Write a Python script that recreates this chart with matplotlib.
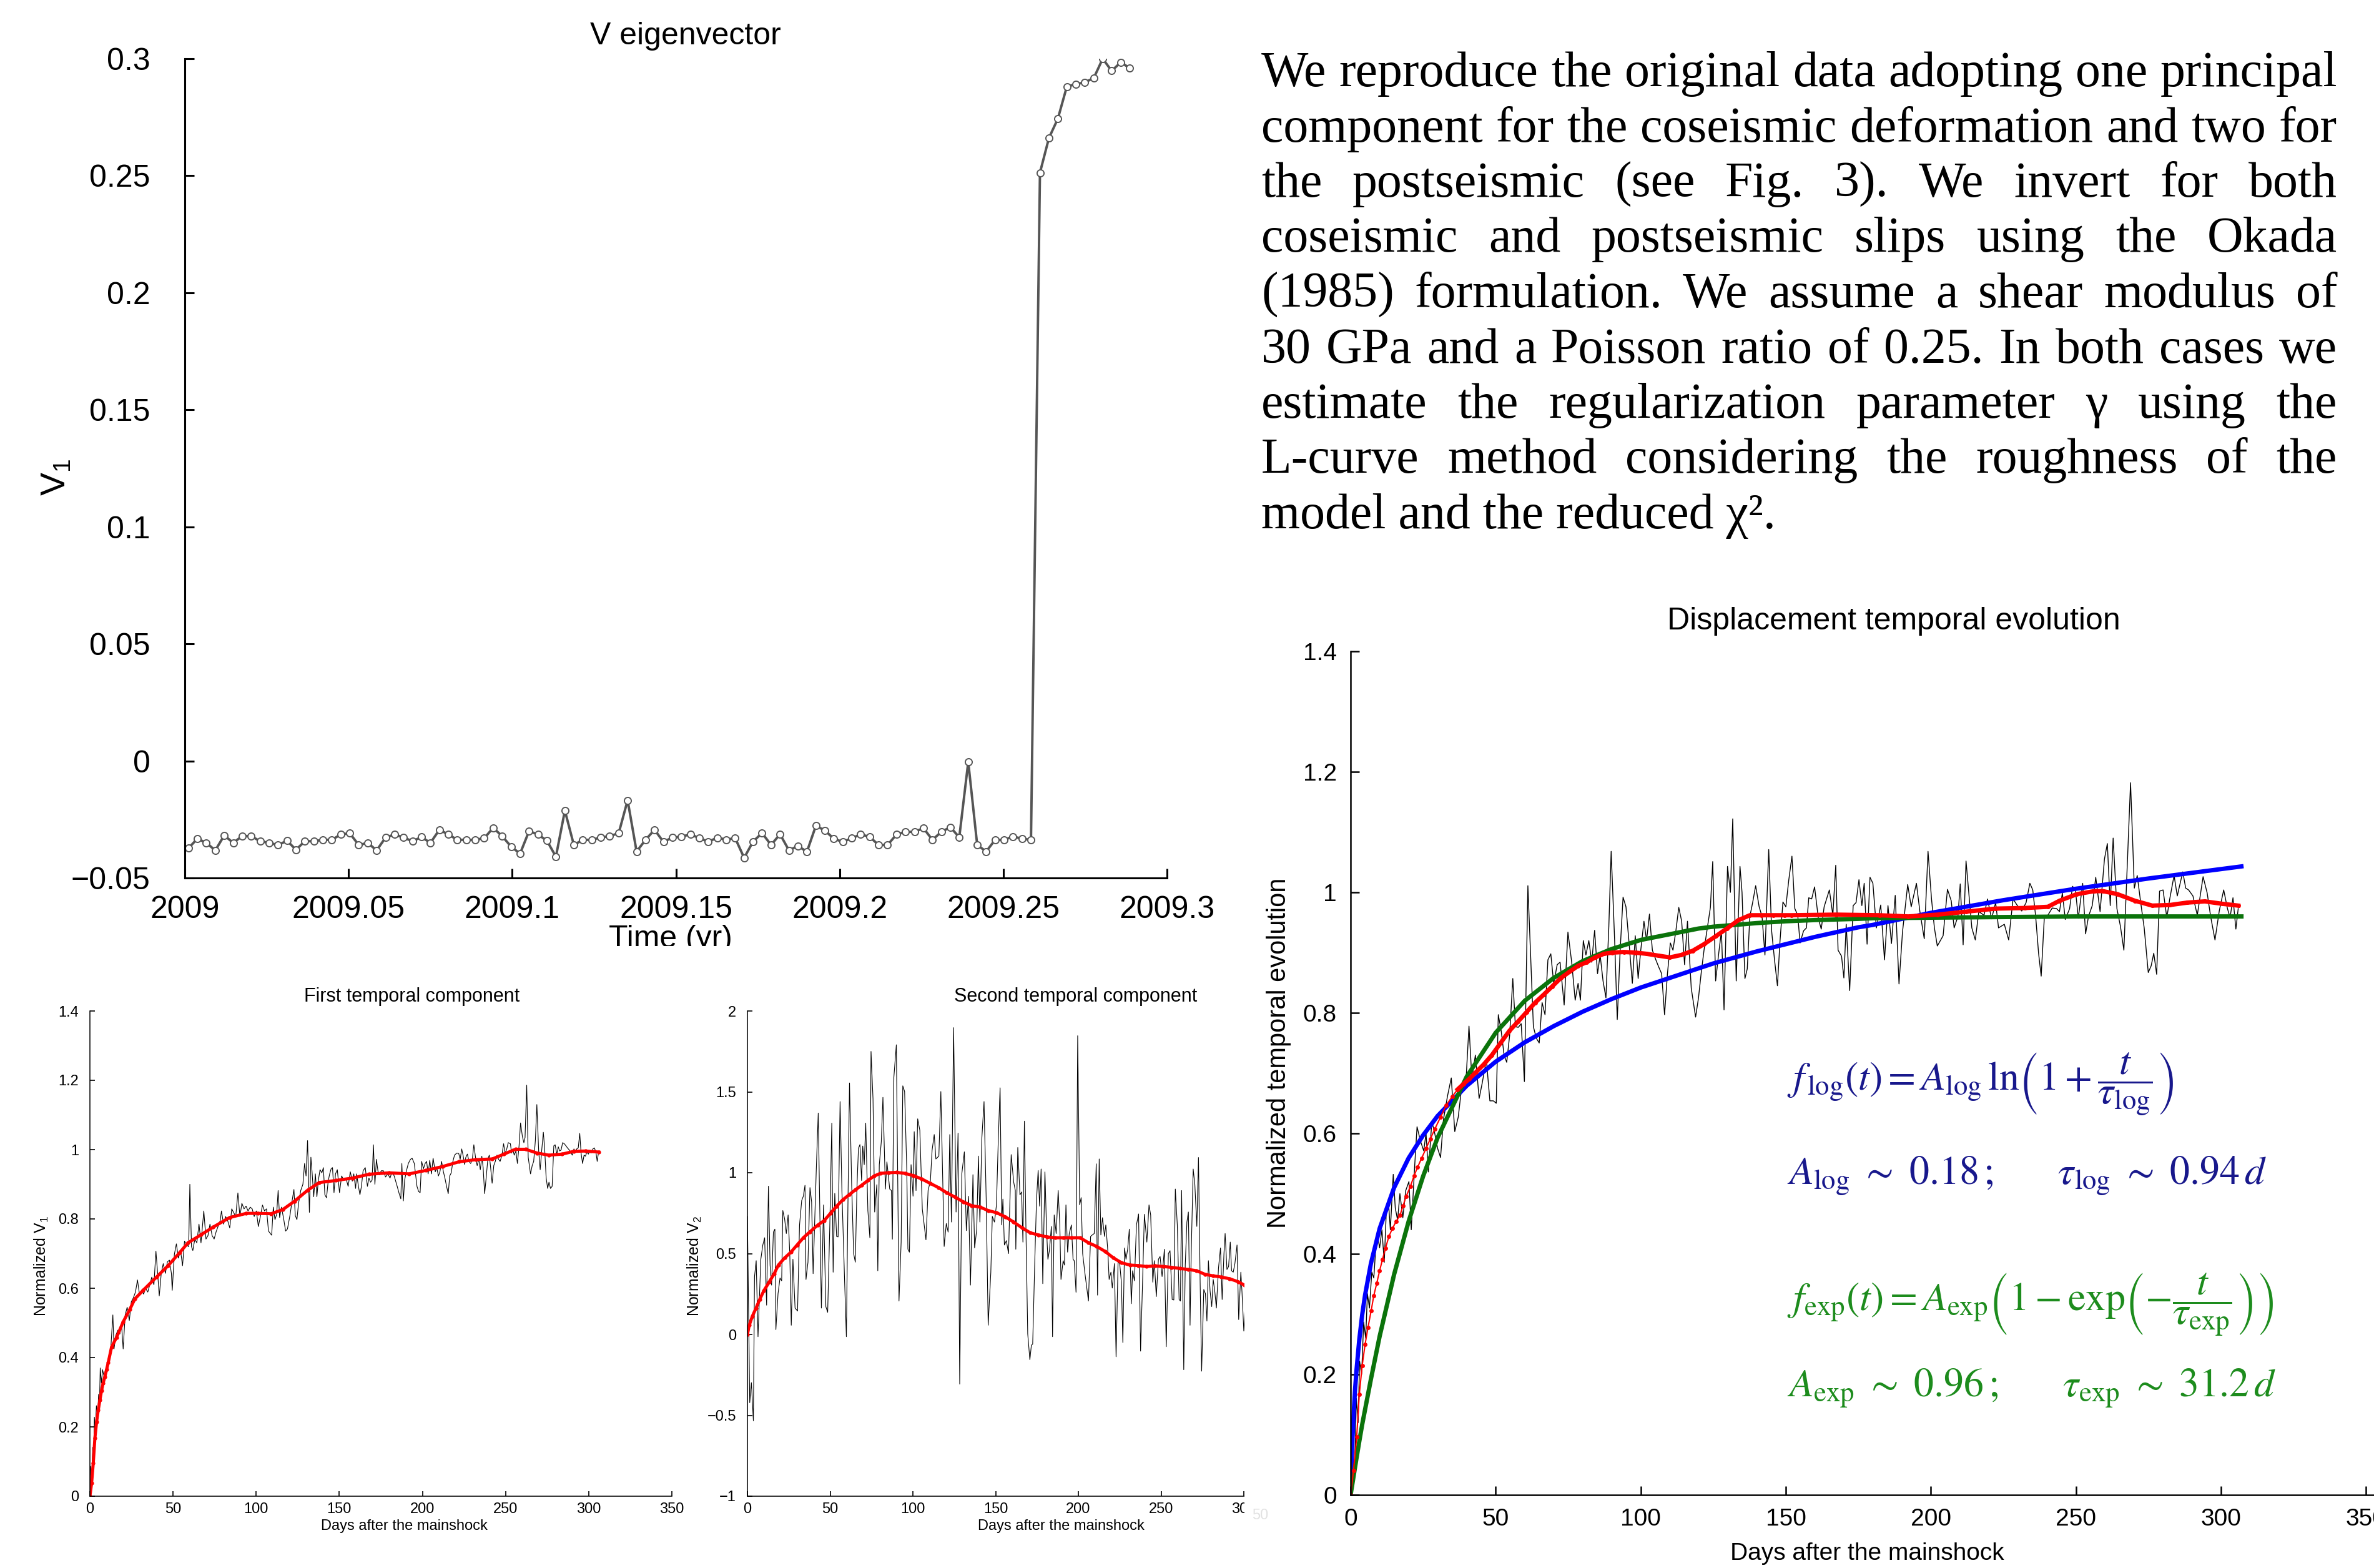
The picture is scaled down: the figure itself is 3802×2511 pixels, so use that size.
import numpy as np
import matplotlib
matplotlib.use('Agg')
import matplotlib.pyplot as plt
from matplotlib.patches import Rectangle
from matplotlib.ticker import FuncFormatter

plt.rcParams['font.family'] = ['Liberation Sans', 'DejaVu Sans']

W, H = 3802, 2511

# --- V eigenvector (daily values, start 2009.0) ---
v_eig = [-0.0373, -0.0332, -0.0350, -0.0382, -0.0318, -0.0350, -0.0321, -0.0321, -0.0343, -0.0350,
         -0.0359, -0.0341, -0.0379, -0.0343, -0.0343, -0.0337, -0.0337, -0.0314, -0.0309, -0.0359,
         -0.0350, -0.0382, -0.0327, -0.0314, -0.0327, -0.0343, -0.0325, -0.0350, -0.0294, -0.0314,
         -0.0337, -0.0337, -0.0337, -0.0330, -0.0286, -0.0321, -0.0366, -0.0396, -0.0300, -0.0314,
         -0.0341, -0.0409, -0.0212, -0.0359, -0.0337, -0.0337, -0.0327, -0.0321, -0.0309, -0.0168,
         -0.0387, -0.0337, -0.0294, -0.0346, -0.0327, -0.0324, -0.0313, -0.0330, -0.0345, -0.0328,
         -0.0336, -0.0330, -0.0414, -0.0344, -0.0308, -0.0359, -0.0313, -0.0382, -0.0363, -0.0388,
         -0.0277, -0.0297, -0.0332, -0.0346, -0.0330, -0.0314, -0.0324, -0.0359, -0.0359, -0.0314,
         -0.0303, -0.0303, -0.0287, -0.0337, -0.0303, -0.0283, -0.0326, -0.0004, -0.0359, -0.0387,
         -0.0337, -0.0337, -0.0323, -0.0332, -0.0337, 0.2513, 0.2661, 0.2744, 0.2881, 0.2891,
         0.2899, 0.2917, 0.3000, 0.2948, 0.2984, 0.2961]
eig_xticks = [2009, 2009.05, 2009.1, 2009.15, 2009.2, 2009.25, 2009.3]
eig_yticks = [-0.05, 0, 0.05, 0.1, 0.15, 0.2, 0.25, 0.3]

# --- First temporal component ---
v1_noisy = [(0, 0), (0.5, .086), (1, .043), (1.7, .141), (2.2, .097), (2.7, .228), (3.2, .185), (3.9, .261),
            (4.7, .228), (5.2, .294), (5.7, .25), (6.2, .37), (6.9, .327), (7.6, .365), (8.4, .348), (9.1, .359),
            (10.1, .376), (11.3, .403), (12.6, .43), (13.8, .523), (14.5, .425), (15.5, .463), (16.8, .479),
            (18, .468), (19, .496), (20, .425), (21.2, .523), (22.4, .545), (23.7, .507), (24.9, .561),
            (26.1, .572), (27.4, .589), (28.6, .624), (29.8, .583), (31.1, .594), (32.3, .583), (33.5, .6),
            (34.8, .589), (36, .61), (37.2, .632), (38.5, .61), (39.7, .707), (40.9, .632), (41.7, .578),
            (42.9, .643), (44.1, .671), (45.4, .643), (46.6, .676), (47.8, .681), (49, .643), (49.5, .594),
            (50.8, .698), (52, .728), (53.2, .687), (54.5, .709), (55.7, .665), (56.9, .736), (58.2, .725),
            (59.4, .72), (60.1, .9), (61.1, .72), (61.9, .709), (63.1, .742), (64.3, .731), (65.6, .785),
            (66.8, .731), (68.5, .823), (69.8, .742), (71, .752), (72.2, .785), (73.5, .752), (74.7, .742),
            (75.9, .763), (77.2, .78), (78.4, .796), (79.1, .823), (80.4, .785), (81.6, .807), (82.8, .796),
            (84.1, .774), (85.3, .829), (86.5, .818), (87.7, .807), (89, .875), (90.2, .807), (91.4, .845),
            (92.7, .829), (93.9, .837), (95.1, .823), (96.4, .834), (97.6, .829), (98.8, .807), (100.1, .823),
            (101.3, .778), (102.5, .807), (103.8, .84), (105, .823), (106.2, .829),
            (107.4, .765), (109.3, .753), (110.3, .834), (111.3, .798), (112.3, .813), (113.2, .882),
            (114.1, .804), (115.2, .834), (116.5, .801), (117.7, .765), (118.8, .771), (120.3, .81),
            (121.6, .852), (122.7, .885), (123.5, .81), (124.5, .798), (125.5, .846), (126.8, .882),
            (128.1, .9), (129.1, .96), (130, .924), (130.9, 1.026), (132, .819), (132.9, .978), (133.6, .936),
            (134.6, .864), (135.6, .93), (136.5, .864), (137.4, .912), (138.4, .942), (139.5, .933),
            (140.4, .948), (141.3, .87), (142.3, .861), (143.3, .909), (144.2, .93), (145.1, .945),
            (145.9, .948), (146.8, .876), (147.7, .93), (148.8, .942), (150.1, .876), (151.4, .924),
            (152.7, .912), (154, .918), (155.3, .894), (156.6, .936), (157.8, .909), (158.7, .93),
            (159.8, .888), (160.4, .93), (161.5, .894), (162.4, .87), (163.3, .894), (164.3, .939),
            (165.6, .948), (166.9, .894), (167.8, .918), (168.8, .906), (169.7, .912), (170.5, 1.014),
            (171.4, .9), (172.3, .972), (173.3, .936), (174.2, .927), (175.2, .939), (176.5, .939),
            (177.8, .921), (179.2, .93), (180.5, .918), (181.7, .936), (183, .924), (184.8, .894),
            (186, .873), (187, .858), (187.6, .96), (188.5, .852), (189.3, .912), (190.2, .936),
            (191.5, .96), (192.8, .972), (193.8, .975), (195.1, .96), (196.7, .894), (197.7, .879),
            (198.6, .876), (199.5, .966), (200.6, .945), (201.6, .96), (202.5, .966), (203.4, .93),
            (204.4, .969), (205.4, .93), (206.4, .975), (207.7, .936), (208.6, .948), (209.6, .924),
            (210.5, .936), (211.5, .966), (212.6, .936), (213.5, .918), (214.5, .894), (215.5, .873),
            (216.4, .924), (217.3, .933), (218.3, .966), (219.3, .984), (220.6, .99), (221.8, .989),
            (222.7, .972), (223.6, 1.002), (224.4, .984), (225.4, .957), (226.1, .978), (227, .987),
            (228, .966), (229, .96), (230, .972), (230.9, 1.014), (231.9, .978), (232.9, .954),
            (233.9, .972), (234.8, .942), (235.7, .981), (236.5, .948), (237.4, .873), (238.3, .918),
            (239.3, .972), (240.2, .984), (241, .948), (241.9, .903), (242.9, .954), (243.8, .966),
            (244.8, .984), (245.8, .972), (246.7, .966), (247.8, .984), (248.8, 1.017), (249.7, .99),
            (250.7, 1.002), (251.6, 1.02), (252.9, 1.017), (253.6, .99), (254.3, 1.002), (255.2, .984),
            (256.2, .996), (257.1, .96), (258.1, 1.011), (259, 1.077), (260.1, 1.038), (261, 1.02),
            (261.7, 1.035), (262.7, 1.186), (263.6, .978), (264.3, .954), (265, .93), (266, .954),
            (266.9, .966), (267.9, 1.026), (268.8, 1.13), (269.9, .996), (270.8, .942), (271.8, 1.002),
            (272.7, 1.05), (273.5, 1.002), (274.4, .918), (275.3, .888), (276.1, .906), (277, .888),
            (278, .894), (279, 1.011), (279.8, 1.014), (280.8, .987), (281.7, 1.008), (282.5, .996),
            (283.4, .999), (284.3, 1.02), (285.3, 1.017), (286.3, 1.011), (287.2, 1.005), (288.3, .999),
            (289.2, .993), (290.1, .984), (291.1, 1.002), (292, .993), (292.8, 1.002), (293.7, 1.005),
            (294.6, 1.047), (295.4, .99), (296.3, .96), (297.2, .984), (298, .981), (298.9, .993),
            (299.8, .987), (300.6, .996), (301.4, .99), (302.5, 1.002), (303.4, 1.005), (304.3, .993),
            (305.1, .966), (306, .996), (306.6, .993)]
v1_smooth_days = [0, 1, 2, 3, 4, 5, 6, 7, 8, 9, 10, 11, 13, 16, 20, 24, 27, 32, 40, 47, 54, 59, 67, 74, 84,
                  94, 101, 109, 116, 123, 131, 138, 148, 158, 168, 180, 192, 202, 212, 222, 232, 242, 249,
                  256, 262, 269, 276, 284, 291, 298, 306]
v1_smooth = [0, .037, .095, .168, .214, .248, .277, .305, .327, .345, .365, .385, .43, .458, .503, .539,
             .569, .594, .632, .665, .703, .731, .755, .776, .804, .816, .816, .815, .827, .851, .883, .905,
             .911, .918, .929, .933, .930, .940, .951, .965, .971, .973, .987, 1.001, 1.001, .990, .984,
             .987, .995, .996, .993]

# --- Second temporal component ---
v2_noisy = [(0, .73), (1.4, -.422), (2.4, -.298), (3.6, -.534), (4.3, .358), (5.3, .456), (6.4, -.014),
            (8.1, .465), (9.3, .553), (10.4, .598), (11.6, .181), (12.7, .917), (13.7, .429), (14.6, .305),
            (15.7, .633), (16.6, .651), (17.2, .03), (18.5, .252), (19.7, .349), (20.7, .332), (21.4, .766),
            (22.5, .713), (23.5, .624), (24.6, .739), (25.6, .5), (26.5, .057), (27.5, .465), (28.8, .163),
            (30.3, .145), (31.5, .677), (32.8, .828), (33.8, .855), (34.8, .922), (35.4, .34), (36.6, .447),
            (37.8, .908), (38.8, .819), (39.7, .376), (41.6, 1.014), (42.8, 1.369), (44.7, .163), (46, .801),
            (47.4, .172), (48.5, .137), (49.8, .677), (51, 1.307), (51.8, .385), (52.8, .872), (53.9, .606),
            (54.8, .603), (56, 1.44), (57.1, .89), (58.6, .376), (59.8, -.014), (60.5, .606), (61.7, 1.555),
            (63, .926), (64.2, .5), (65.2, .447), (66.2, .908), (67.1, 1.15), (68, 1.174), (69, .952),
            (69.7, 1.165), (70.6, 1.05), (71.5, 1.307), (72.8, .766), (74, .598), (74.7, 1.75), (75.9, 1.457),
            (76.9, .757), (78.2, .926), (78.8, .394), (79.7, 1.05), (80.9, 1.191), (81.9, 1.466), (83.4, .899),
            (84.3, 1.067), (86, .899), (87, .89), (87.6, .589), (88.5, 1.59), (90, 1.791), (91.6, .207),
            (92.9, .571), (93.9, 1.537), (95, 1.502), (96.3, 1.023), (97, .527), (97.9, .509), (98.9, 1.05),
            (100.1, .855), (100.8, 1.254), (101.9, .89), (102.9, 1.333), (104.2, 1.262), (105.7, .775),
            (107.9, .585), (109.2, .89), (110.6, .952), (111.6, 1.138), (112.9, 1.236), (113.9, 1.085),
            (115.7, 1.103), (116.9, 1.502), (118.2, .89), (118.9, .544), (120.2, .686), (121.3, .633),
            (122.3, 1.236), (123.3, .695), (124.6, 1.897), (126.1, .757), (127.3, 1.245), (128.3, -.307),
            (129.6, .996), (131.1, 1.129), (132.3, .642), (133.6, .855), (134.8, .305), (136.3, .988),
            (137.3, .535), (138.6, .651), (139.6, 1.103), (140.5, .695), (141.7, 1.218), (143, 1.44),
            (144.3, .837), (145.5, .057), (147.1, .385), (148, .73), (149.3, .695), (150.5, .8), (151.6, 1.2),
            (152.7, 1.525), (153.7, .677), (154.4, .837), (155.3, .553), (156.5, .58), (157.8, .5),
            (159.4, 1.112), (160.9, .943), (161.9, .89), (162.2, .527), (163.4, 1.156), (164.7, .863),
            (165.7, .881), (166.5, .571), (167.4, 1.319), (168.4, .6), (169.4, .004), (170.7, -.156),
            (171.6, -.067), (172.4, -.059), (173.7, .465), (174.7, .828), (175.7, 1.014), (176.6, .793),
            (177.5, 1.023), (178.5, .314), (179.8, 1.005), (180.8, .642), (181.6, .465), (182.5, .518),
            (183.7, .668), (184.4, -.014), (185.4, .739), (186.6, .624), (187.8, .89), (188.8, .677),
            (189.5, .34), (190.8, .456), (191.6, .429), (192.5, .801), (193.5, .509), (194.5, .624),
            (195.8, .677), (196.8, .465), (197.5, .456), (198.6, .261), (199.6, 1.847), (200.8, .801),
            (201.7, .846), (202.6, .5), (204, .376), (205.1, .287), (206.1, .207), (207.4, .606),
            (208.4, .615), (209.6, .624), (210.8, 1.055), (211.6, .243), (212.6, 1.085), (213.6, .615),
            (214.6, .722), (215.8, .606), (216.6, .677), (217.8, .518), (218.6, .34), (219.7, .385),
            (220.5, .287), (221.8, .438), (222.8, -.138), (224, .447), (225, .438), (226, .323),
            (226.9, -.05), (227.9, .535), (228.8, .465), (229.8, .527), (230.8, .651), (232, .19),
            (232.8, .394), (233.9, .332), (235.1, .677), (236.4, .745), (237.6, -.103), (238.9, .358),
            (239.9, .743), (241.4, .571), (242.7, .801), (243.7, .739), (245, .323), (245.9, .456),
            (247.1, .234), (248.4, .465), (249.4, .482), (250.6, .358), (252, .527), (253.1, -.076),
            (254.4, .5), (255.4, .518), (256.7, .216), (257.7, .213), (258.6, .899), (259.8, .677),
            (260.9, .216), (261.7, .207), (262.4, .89), (263.7, -.218), (264.6, .429), (265.6, .695),
            (266.5, .757), (267.5, .057), (268.2, .5), (269.4, 1.023), (270.4, .926), (271.6, .668),
            (272.6, 1.094), (273.6, .323), (274.5, -.227), (275.8, .278), (276.8, .252), (277.7, .083),
            (278.6, .456), (279.6, .27), (280.6, .172), (281.5, .34), (282.5, .261), (283.4, .163),
            (284.7, .411), (285.9, .535), (286.9, .216), (288, .5), (288.7, .624), (289.8, .402),
            (290.8, .42), (291.8, .571), (292.6, .394), (293.6, .385), (294.6, .438), (295.9, .553),
            (296.9, .092), (298.2, .385), (298.9, .261), (300, .021), (301, .225)]
v2_smooth_days = [0, 1.1, 3, 5.2, 7.4, 9.9, 13.1, 16.2, 18.7, 22.5, 26.3, 30, 33.8, 37.6, 42.6, 46.4, 50.1,
                  53.9, 57.7, 61.4, 65.2, 69, 72.8, 76.5, 80.3, 85.3, 90.3, 95.3, 100.4, 105.4, 110.5, 115.5,
                  120.5, 125.5, 130.6, 135.6, 140.6, 145.6, 150.7, 155.9, 160.9, 165.9, 171, 176, 181, 186,
                  191, 196, 201, 206.1, 211.1, 216.1, 221.2, 226.2, 231.2, 236.2, 241.3, 246.3, 251.3, 256.3,
                  261.4, 266.4, 271.4, 276.5, 281.5, 286.5, 291.5, 296.6, 300.3]
v2_smooth = [0, .057, .113, .163, .216, .270, .323, .376, .429, .473, .509, .553, .598, .633, .677, .704,
             .748, .793, .833, .863, .894, .922, .952, .979, .996, 1.0, 1.002, .996, .982, .961, .934, .908,
             .876, .849, .819, .796, .787, .766, .752, .727, .695, .660, .628, .615, .603, .598, .598, .598,
             .598, .567, .544, .514, .473, .443, .429, .426, .420, .424, .420, .415, .408, .402, .394, .372,
             .362, .355, .344, .326, .305]

# --- Displacement temporal evolution ---
disp_noisy = [(0, 0), (0.6, .08), (1.3, .03), (2, .16), (2.6, .12), (3.1, .222), (3.8, .2), (4.5, .287),
              (5.2, .26), (5.8, .334), (6.5, .31), (7.3, .37), (8, .36), (8.6, .405), (9.3, .43), (10, .41),
              (10.8, .44), (11.6, .386), (12.3, .47), (13, .49), (13.7, .44), (14.7, .532), (15.4, .476),
              (16.2, .456), (17, .5), (18, .46), (19, .505), (20.1, .52), (20.9, .44), (22.1, .547),
              (22.9, .611), (24.1, .587), (25.2, .571), (26, .6), (26.8, .536), (28, .62), (29, .6),
              (30, .575), (31, .56), (32, .623), (33.4, .662), (34.7, .692), (35.9, .603), (37.1, .627),
              (38.4, .682), (39.8, .69), (40.8, .778), (41.8, .69), (43, .73), (44.3, .658), (45.3, .682),
              (46.8, .722), (48, .654), (49.2, .654), (50.2, .65), (50.9, .797), (51.9, .77), (52.9, .73),
              (53.8, .718), (54.8, .762), (55.9, .857), (56.8, .777), (57.8, .776), (58.8, .782), (59.9, .686),
              (61.1, 1.011), (62.1, .888), (63, .777), (64, .758), (65, .75), (66, .817), (67, .797), (68, .888),
              (69, .898), (70, .849), (71.2, .88), (72.2, .884), (73.6, .813), (74.9, .934), (76.2, .884),
              (77.4, .821), (78.4, .849), (79.2, .821), (80.2, .92), (81.1, .896), (82.1, .92), (83.1, .884),
              (84.1, .937), (85.1, .865), (86, .896), (87, .853), (88, .825), (89, .944), (89.8, 1.068),
              (91, .92), (91.9, .789), (92.9, .904), (93.9, .992), (94.9, .976), (95.9, .92), (97.1, .849),
              (98.1, .928), (99.1, .857), (100, .904), (101.1, .952), (102, .92), (103, .964), (104, .904),
              (105.2, .888), (106.2, .876), (107.2, .865), (108.2, .797), (109.2, .865), (110.2, .916),
              (111.1, .904), (112.1, .936), (113.1, .975), (114.1, .952), (115.1, .88), (116.1, .952),
              (117.4, .841), (118.9, .793), (119.9, .825), (120.8, .865), (121.8, .904), (122.8, .936),
              (124, .975), (124.8, 1.051), (125.8, .853), (126.8, .896), (127.8, .936), (128.7, .805),
              (129.9, 1.043), (130.9, 1.0), (131.7, 1.122), (132.9, .853), (134.2, 1.043), (134.9, 1.0),
              (135.9, .857), (136.7, .873), (137.6, .96), (138.6, .984), (139.6, 1.011), (140.8, .976),
              (141.8, .96), (142.8, .896), (144.1, 1.071), (145.1, .936), (146.1, .888), (147.1, .845),
              (148, .92), (149, .984), (150, .976), (151, 1.02), (152.1, 1.06), (153.1, .973), (154.1, .962),
              (154.9, .916), (156.1, .936), (157.1, .941), (157.9, .991), (158.9, .989), (159.9, 1.009),
              (161.2, .957), (162.2, .939), (163.2, .976), (165, 1.004), (166.2, .962), (167.2, 1.045),
              (168, .904), (169.2, .894), (170, .858), (170.8, .947), (172, .837), (173.2, .978), (174.2, .983),
              (175.2, 1.021), (176.2, .978), (177, 1.015), (178, .914), (179, 1.025), (180, 1.015),
              (181.2, .941), (182.7, .979), (184, .888), (185.2, .978), (186.4, .915), (187.7, .995),
              (189, .848), (190.2, .934), (192, 1.013), (193.2, .976), (195, 1.015), (196.2, .968),
              (197.7, .923), (199, 1.068), (200.2, .989), (201.2, .941), (202.2, .911), (204.2, .928),
              (205.7, 1.005), (207, .986), (208, .941), (209.3, .96), (210.1, 1.014), (211.1, .913),
              (212.1, 1.052), (213.3, .985), (214.1, .941), (215.3, .921), (216.5, .968), (218.3, .962),
              (219.5, .989), (220.9, .956), (222.3, .983), (223.3, .941), (225.3, .947), (226.8, .921),
              (228.3, .989), (229.8, .978), (231.3, .969), (232.8, .983), (234.1, 1.015), (235.1, 1.004),
              (236.1, .96), (237.1, .899), (238, .861), (239.1, .96), (240.3, .962), (241.8, .974),
              (243.3, .973), (244.3, .968), (245.3, .999), (246.3, .955), (247.8, .973), (248.8, 1.01),
              (249.8, 1.004), (250.8, .957), (252.3, 1.015), (253.3, .931), (254.3, .96), (255.6, .978),
              (256.8, 1.025), (258.3, .968), (259.8, 1.055), (260.8, 1.081), (261.8, .978), (262.8, 1.09),
              (264.1, .973), (265.3, .944), (266.5, .904), (268.3, 1.121), (268.8, 1.182), (270.1, 1.007),
              (271.1, 1.028), (272.3, .983), (273.5, .941), (274.9, .867), (275.9, .878), (276.8, .899),
              (277.8, .864), (278.8, 1.002), (280, 1.004), (281.3, .958), (282.3, .989), (283.8, 1.028),
              (284.9, .994), (286.8, 1.034), (287.8, 1.007), (288.8, 1.004), (290.3, .994), (291.8, .962),
              (293.8, 1.026), (295.2, .999), (296.4, .96), (297.9, .921), (299.4, .97), (300.9, 1.004),
              (302.2, .973), (303.1, .958), (304.1, .991), (305.1, .939), (305.9, .973)]
disp_smooth_days = [0, 1, 2.1, 3, 4, 5, 6, 7.1, 8, 9, 10, 11, 12, 13.2, 14.4, 15.7, 17, 18.1, 19.1, 20.6,
                    21.9, 23.1, 24.5, 26, 27.5, 29, 31, 33, 35, 36.9, 38.9, 40.8, 43.3, 45.8, 48.7, 51.7,
                    54.7, 57.6, 60.6, 63.6, 66.5, 69.5, 72.5, 75.4, 78.4, 81.3, 84.3, 87.3, 90.2, 94.2, 98.1,
                    102, 106, 110, 113.9, 117.9, 121.8, 125.8, 129.7, 133.7, 137.6, 141.6, 145.6, 149.5, 152,
                    167.2, 182.2, 192.2, 202.2, 212.2, 222.3, 232.3, 240.3, 244.3, 250.3, 256.3, 259.3, 264.3,
                    270.3, 276.3, 282.4, 288.4, 294.4, 300.4, 305.9]
disp_smooth = [0, .04, .096, .167, .215, .250, .278, .306, .331, .351, .372, .391, .409, .429, .442, .454,
               .464, .480, .495, .512, .530, .544, .559, .575, .591, .607, .627, .647, .661, .673, .682, .690,
               .702, .714, .730, .750, .770, .785, .801, .817, .830, .844, .858, .868, .878, .884, .892, .898,
               .900, .901, .900, .898, .895, .892, .896, .903, .914, .927, .940, .954, .962, .962, .962, .962,
               .962, .963, .962, .960, .963, .968, .973, .974, .976, .986, .997, 1.002, 1.002, .997, .986,
               .978, .979, .983, .985, .981, .978]
fit_days = [0, 0.2, 0.5, 1, 1.5, 2, 3, 4, 5, 7, 10, 15, 20, 25, 30, 40, 50, 60, 70, 80, 90, 100, 120, 125,
            140, 150, 160, 175, 180, 200, 225, 250, 275, 307]
log_fit = [0, .035, .077, .130, .172, .205, .258, .299, .332, .384, .442, .510, .559, .597, .629, .679, .719,
           .751, .778, .802, .823, .842, .874, .882, .902, .914, .926, .942, .946, .966, .987, 1.006, 1.023, 1.043]
exp_fit = [0, .006, .015, .030, .045, .060, .089, .117, .142, .192, .263, .366, .454, .529, .593, .694, .767,
           .820, .858, .886, .906, .921, .940, .943, .949, .952, .954, .956, .957, .958, .959, .960, .960, .960]

text_lines = ["We reproduce the original data adopting one principal",
              "component for the coseismic deformation and two for",
              "the postseismic (see Fig. 3). We invert for both",
              "coseismic and postseismic slips using the Okada",
              "(1985) formulation. We assume a shear modulus of",
              "30 GPa and a Poisson ratio of 0.25. In both cases we",
              "estimate the regularization parameter \u03b3 using the",
              "L-curve method considering the roughness of the",
              "model and the reduced \u03c7\u00b2."]

fig = plt.figure(figsize=(W / 100, H / 100), dpi=100)


def fx(x):
    return x / W


def fy(y):
    return 1 - y / H


def box(l, r, t, b):
    return [fx(l), fy(b), (r - l) / W, (b - t) / H]


def num(v, p=None):
    return ('%g' % round(v, 8)).replace('-', '\u2212')


def style(ax, size, tl, tw, sw, xpad, ypad):
    for s in ('top', 'right'):
        ax.spines[s].set_visible(False)
    for s in ('left', 'bottom'):
        ax.spines[s].set_linewidth(sw)
    ax.tick_params(direction='in', labelsize=size, length=tl, width=tw)
    ax.tick_params(axis='x', pad=xpad)
    ax.tick_params(axis='y', pad=ypad)
    ax.xaxis.set_major_formatter(FuncFormatter(num))
    ax.yaxis.set_major_formatter(FuncFormatter(num))


def label(x, y, s, size, z, **kw):
    fig.text(fx(x), fy(y), s, fontsize=size, ha=kw.pop('ha', 'center'), va=kw.pop('va', 'center'),
             zorder=z, **kw)


# 1. V eigenvector
ax1 = fig.add_axes(box(296, 1869, 94, 1406), zorder=1)
t_eig = 2009 + (np.arange(len(v_eig)) + 0.4) / 365.25
ax1.plot(t_eig, v_eig, '-o', color='#555555', lw=2.8, ms=8, mfc='white', mec='#555555', mew=1.4)
ax1.set_xlim(2009, 2009.3)
ax1.set_ylim(-0.05, 0.3)
ax1.set_xticks(eig_xticks)
ax1.set_yticks(eig_yticks)
style(ax1, 36, 11, 2.2, 2.2, 20, 40)
label(1098, 58, 'V eigenvector', 36, 1)
label(90, 764, 'V$_\\mathregular{1}$', 40, 1, rotation=90)
label(1074, 1481, 'Time (yr)', 36, 1, va='top')

fig.add_artist(Rectangle((0, 0), fx(1993), 1 - 1515 / H, transform=fig.transFigure,
                         facecolor='white', edgecolor='none', zorder=2))

# 2. First temporal component
ax2 = fig.add_axes(box(144, 1076, 1619, 2396), zorder=3)
d, v = np.array(v1_noisy).T
ax2.plot(d, v, color='black', lw=0.8)
ax2.plot(v1_smooth_days, v1_smooth, '-o', color='red', lw=3.6, ms=4.5, mec='none')
ax2.set_xlim(0, 350)
ax2.set_ylim(0, 1.4)
ax2.set_xticks(np.arange(0, 351, 50))
ax2.set_yticks([0, 0.2, 0.4, 0.6, 0.8, 1, 1.2, 1.4])
style(ax2, 17, 6, 1.2, 1.1, 7, 13)
label(660, 1596, 'First temporal component', 22, 3.5)
label(66, 2027, 'Normalized V$_\\mathregular{1}$', 18, 3.5, rotation=90)
label(647, 2444, 'Days after the mainshock', 17, 3.5)

# 3. Second temporal component
ax3 = fig.add_axes(box(1197, 2124.5, 1619, 2396), zorder=3)
d, v = np.array(v2_noisy).T
ax3.plot(d, v, color='black', lw=0.8)
ax3.plot(v2_smooth_days, v2_smooth, '-o', color='red', lw=3.6, ms=4.5, mec='none')
ax3.set_xlim(0, 350)
ax3.set_ylim(-1, 2)
ax3.set_xticks(np.arange(0, 351, 50))
ax3.set_yticks([-1, -0.5, 0, 0.5, 1, 1.5, 2])
style(ax3, 17, 6, 1.2, 1.1, 7, 13)
label(1723, 1596, 'Second temporal component', 22, 3.5)
label(1112, 2027, 'Normalized V$_\\mathregular{2}$', 18, 3.5, rotation=90)
label(1699, 2444, 'Days after the mainshock', 17, 3.5)

fig.add_artist(Rectangle((fx(1993), 0), 1 - fx(1993), 1 - 1540 / H, transform=fig.transFigure,
                         facecolor='white', edgecolor='none', zorder=4))
label(2018, 2427, '50', 17, 6, color='#e2e2e2')

# 4. Displacement temporal evolution
ax4 = fig.add_axes(box(2163, 3802, 1043, 2394), zorder=5)
d, v = np.array(disp_noisy).T
ax4.plot(d, v, color='black', lw=1.0)
ax4.plot(fit_days, log_fit, color='#0000ff', lw=5)
ax4.plot(fit_days, exp_fit, color='#0b730b', lw=5)
sd = np.array(disp_smooth_days)
sv = np.array(disp_smooth)
ax4.plot(sd, sv, '-o', color='red', lw=1.5, ms=5, mec='none')
ax4.plot(sd[sd >= 36], sv[sd >= 36], color='red', lw=5)
ax4.set_xlim(0, 352.7)
ax4.set_ylim(0, 1.4)
ax4.set_xticks(np.arange(0, 351, 50))
ax4.set_yticks([0, 0.2, 0.4, 0.6, 0.8, 1, 1.2, 1.4])
style(ax4, 28, 10, 1.8, 1.8, 15, 16)
label(3033, 995, 'Displacement temporal evolution', 36, 6)
label(2048, 1686, 'Normalized temporal evolution', 30, 6, rotation=90)
label(2990, 2488, 'Days after the mainshock', 28, 6)

blue_txt = '#18188c'
green_txt = '#1d8c1d'
eq = dict(ha='left', va='center', math_fontfamily='stix')
label(2862, 1736, r'$f_{\,\mathrm{log}}\left(t\right)=A_{\mathrm{log}}\,\mathrm{ln}\left(1+\dfrac{t}{\tau_{\mathrm{log}}}\right)$',
      46, 6, color=blue_txt, **eq)
label(2862, 1883, r'$A_{\mathrm{log}}\ \sim\ 0.18\,;\qquad\tau_{\mathrm{log}}\ \sim\ 0.94\,d$',
      46, 6, color=blue_txt, **eq)
label(2862, 2089, r'$f_{\mathrm{exp}}\left(t\right)=A_{\mathrm{exp}}\left(1-\mathrm{exp}\left(-\dfrac{t}{\tau_{\mathrm{exp}}}\right)\right)$',
      46, 6, color=green_txt, **eq)
label(2862, 2223, r'$A_{\mathrm{exp}}\ \sim\ 0.96\,;\qquad\tau_{\mathrm{exp}}\ \sim\ 31.2\,d$',
      46, 6, color=green_txt, **eq)

# justified text block
serif = ['Liberation Serif', 'DejaVu Serif']
txt_l, txt_r, base0, lead = 2020, 3743, 138, 88.5
renderer = fig.canvas.get_renderer()
probe = fig.text(0, 0, text_lines[0], fontsize=50, family=serif)
fs = 50 * (txt_r - txt_l) / probe.get_window_extent(renderer).width
probe.remove()
for i, line in enumerate(text_lines):
    y = base0 + i * lead
    if i == len(text_lines) - 1:
        fig.text(fx(txt_l), fy(y), line, fontsize=fs, family=serif, va='baseline', zorder=6)
        continue
    words = line.split(' ')
    items = [fig.text(0, fy(y), w, fontsize=fs, family=serif, va='baseline', zorder=6) for w in words]
    widths = [t.get_window_extent(renderer).width for t in items]
    gap = (txt_r - txt_l - sum(widths)) / (len(words) - 1)
    x = txt_l
    for t, w in zip(items, widths):
        t.set_x(fx(x))
        x += w + gap

fig.savefig('out.png', dpi=100)
